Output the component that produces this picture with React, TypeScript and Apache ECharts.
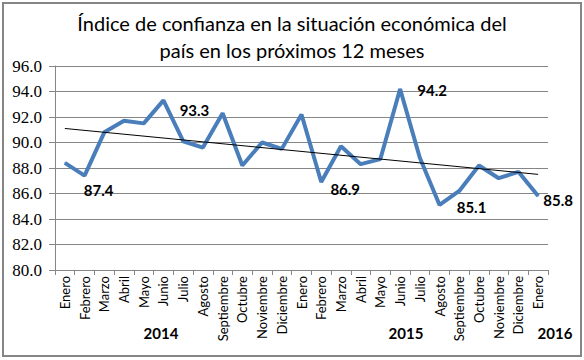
import React, { useEffect, useRef } from "react";
import * as echarts from "echarts";

const months = [
  "Enero", "Febrero", "Marzo", "Abril", "Mayo", "Junio", "Julio", "Agosto",
  "Septiembre", "Octubre", "Noviembre", "Diciembre",
  "Enero", "Febrero", "Marzo", "Abril", "Mayo", "Junio", "Julio", "Agosto",
  "Septiembre", "Octubre", "Noviembre", "Diciembre",
  "Enero",
];
const values2014 = [88.4, 87.4, 90.8, 91.7, 91.5, 93.3, 90.1, 89.6, 92.3, 88.2, 90.0, 89.5];
const values2015 = [92.2, 86.9, 89.7, 88.3, 88.7, 94.2, 88.8, 85.1, 86.2, 88.2, 87.2, 87.7];
const values2016 = [85.8];
const years = ["2014", "2015", "2016"];
const trendEnds = [91.1, 87.5];
const labeledIndices = [1, 5, 13, 17, 19, 24];
const yTicks = [80, 82, 84, 86, 88, 90, 92, 94, 96];

const SANS = "Lato, 'Open Sans', sans-serif";
const GRAY = "#868686";
const BLUE = "#4A7EBB";

const labelOffsets: Record<number, [number, number]> = {
  1: [14, 14],
  5: [31, 10],
  13: [24, 7],
  17: [32, 1],
  19: [32, 2],
  24: [20, 4],
};
const yearX = [161, 406, 555];

export default function App() {
  const ref = useRef<HTMLDivElement>(null);
  useEffect(() => {
    if (!ref.current) return;
    const chart = echarts.init(ref.current, undefined, { renderer: "svg" });
    const all = [...values2014, ...values2015, ...values2016];
    const data = all.map((v, i) =>
      labeledIndices.includes(i)
        ? { value: v, label: { show: true, offset: labelOffsets[i] } }
        : v
    );
    chart.setOption({
      animation: false,
      backgroundColor: "#ffffff",
      title: {
        text: "Índice de confianza en la situación económica del\npaís en los próximos 12 meses",
        left: "center",
        top: 4,
        textStyle: {
          fontFamily: SANS,
          fontSize: 20,
          fontWeight: "normal",
          lineHeight: 27,
          color: "#000",
        },
      },
      grid: { left: 55, right: 36, top: 66, bottom: 90 },
      xAxis: {
        type: "category",
        data: months,
        boundaryGap: true,
        axisLine: { lineStyle: { color: GRAY, width: 1 } },
        axisTick: { show: true, length: 5, lineStyle: { color: GRAY } },
        axisLabel: {
          interval: 0,
          rotate: 90,
          fontFamily: SANS,
          fontSize: 13,
          color: "#000",
          margin: 6,
        },
      },
      yAxis: {
        type: "value",
        min: yTicks[0],
        max: yTicks[yTicks.length - 1],
        interval: 2,
        axisLine: { show: true, lineStyle: { color: GRAY, width: 1 } },
        axisTick: { show: true, length: 6, lineStyle: { color: GRAY } },
        splitLine: { lineStyle: { color: GRAY, width: 1 } },
        axisLabel: {
          fontFamily: "'Liberation Serif', serif",
          fontSize: 17,
          color: "#000",
          margin: 13,
          formatter: (v: number) => v.toFixed(1),
        },
      },
      graphic: [
        {
          type: "rect",
          shape: { x: 3, y: 3, width: 578, height: 353 },
          style: { fill: "none", stroke: GRAY, lineWidth: 2 },
          z: 100,
        },
        ...years.map((y, i) => ({
          type: "text",
          x: yearX[i],
          y: 333,
          style: {
            text: y,
            fontFamily: SANS,
            fontSize: 15,
            fontWeight: "bold",
            fill: "#000",
            align: "center",
            verticalAlign: "middle",
          },
        })),
      ],
      series: [
        {
          type: "line",
          data,
          symbol: "circle",
          symbolSize: 1,
          showSymbol: true,
          itemStyle: { color: BLUE },
          lineStyle: { color: BLUE, width: 4 },
          label: {
            show: false,
            position: "inside",
            fontFamily: SANS,
            fontSize: 15,
            fontWeight: "bold",
            color: "#000",
            formatter: (p: any) => Number(p.value).toFixed(1),
          },
          z: 2,
        },
        {
          type: "line",
          data: [
            [0, trendEnds[0]],
            [all.length - 1, trendEnds[1]],
          ],
          symbol: "none",
          lineStyle: { color: "#000", width: 1 },
          silent: true,
          z: 3,
        },
      ],
    });
    return () => chart.dispose();
  }, []);
  return (
    <div
      ref={ref}
      style={{ position: "fixed", left: 0, top: 0, width: 584, height: 360 }}
    />
  );
}
